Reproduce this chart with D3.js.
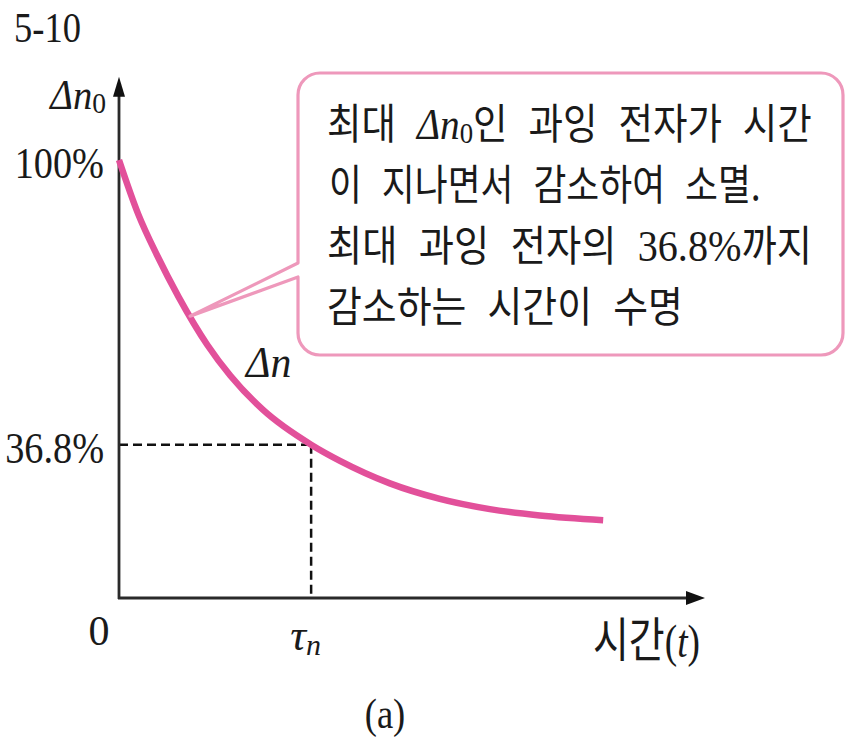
<!DOCTYPE html>
<html>
<head>
<meta charset="utf-8">
<script src="https://cdn.jsdelivr.net/npm/d3@7"></script>
<style>
    html, body { margin: 0; padding: 0; background: #fff; }
    svg { display: block; }
    .serif { font-family: "Liberation Serif", "DejaVu Serif", serif; }
    .kr { font-family: "Noto Sans CJK KR", sans-serif; }
</style>
</head>
<body>
<div id="chart"></div>
<script>
// Fig 5-10 (a): decay of excess electrons, lifetime tau_n at 36.8%

// curve: time in units of tau_n, excess in % of Δn0
const times  = [0, 0.10, 0.20, 0.31, 0.46, 0.58, 0.75, 1.00, 1.15, 1.41, 1.67, 1.93, 2.19, 2.52];
const excess = [100, 88.2, 79.0, 70.0, 59.3, 52.4, 44.7, 36.8, 33.1, 27.9, 24.3, 21.9, 20.4, 19.3];

const yTicks = [100, 36.8];
const xTicks = [1];          // tau_n
const lifetime = 1;          // t = tau_n
const lifetimeLevel = 36.8;  // %
const axisMax = { t: 3.05, v: 118 };
const calloutAt = 0.37;      // t where the callout points at the curve

const calloutLines = [
    [['kr', '최대 '], ['it', 'Δn'], ['sub', '0'], ['kr', '인 과잉 전자가 시간']],
    [['kr', '이 지나면서 감소하여 소멸.']],
    [['kr', '최대 과잉 전자의 '], ['serif', '36.8%'], ['kr', '까지']],
    [['kr', '감소하는 시간이 수명']]
];

const COLORS = {
    axis: '#2a2a2a',
    curve: '#e2509a',
    callout: '#ee98bb',
    text: '#1a1a1a'
};

const width = 846, height = 737;
const serifSqueeze = 0.87;   // the figure's serif lettering is slightly condensed

const svg = d3.select('#chart').append('svg')
    .attr('width', width)
    .attr('height', height);

svg.append('rect').attr('width', width).attr('height', height).attr('fill', '#fff');

// Scales (schematic figure, so the vertical scale is slightly non-linear)
const x = d3.scaleLinear().domain([0, axisMax.t]).range([119, 705]);
const y = d3.scalePow().exponent(1.05).domain([0, 100]).range([598, 160]);

// Figure number
svg.append('text')
    .attr('class', 'serif')
    .attr('transform', `translate(14,42) scale(${serifSqueeze},1)`)
    .attr('font-size', 42)
    .attr('fill', COLORS.text)
    .text('5-10');

// Dashed guides at the lifetime
const guides = svg.append('g')
    .attr('stroke', '#111')
    .attr('stroke-width', 2.5)
    .attr('stroke-dasharray', '9,5')
    .attr('fill', 'none');
guides.append('line')
    .attr('x1', x(0)).attr('x2', x(lifetime))
    .attr('y1', y(lifetimeLevel)).attr('y2', y(lifetimeLevel));
guides.append('line')
    .attr('x1', x(lifetime)).attr('x2', x(lifetime))
    .attr('y1', y(lifetimeLevel)).attr('y2', y(0));

// Axes lines with arrow heads
const axes = svg.append('g');
axes.append('line')
    .attr('x1', x(0)).attr('x2', x(0))
    .attr('y1', y(0) + 1).attr('y2', y(axisMax.v) + 16)
    .attr('stroke', COLORS.axis).attr('stroke-width', 2.8);
axes.append('line')
    .attr('x1', x(0) - 1).attr('x2', x(axisMax.t) - 14)
    .attr('y1', y(0)).attr('y2', y(0))
    .attr('stroke', COLORS.axis).attr('stroke-width', 2.8);
axes.append('path')
    .attr('d', `M${x(0)},${y(axisMax.v)} l-6,20 h12 Z`)
    .attr('fill', '#111');
axes.append('path')
    .attr('d', `M${x(axisMax.t)},${y(0)} l-19,-7 v14 Z`)
    .attr('fill', '#111');

// Y tick labels
const yAxis = svg.append('g')
    .attr('transform', `translate(${x(0)},0)`)
    .call(d3.axisLeft(y).tickValues(yTicks).tickSize(0).tickPadding(15)
        .tickFormat(d => d + '%'));
yAxis.select('.domain').remove();
yAxis.selectAll('text')
    .attr('class', 'serif')
    .attr('font-size', 44)
    .attr('fill', COLORS.text)
    .attr('x', -15 / serifSqueeze)
    .attr('dy', '0.4em')
    .attr('transform', `scale(${serifSqueeze},1)`);

// X tick labels (tau_n)
const xAxis = svg.append('g')
    .attr('transform', `translate(0,${y(0)})`)
    .call(d3.axisBottom(x).tickValues(xTicks).tickSize(0).tickFormat(''));
xAxis.select('.domain').remove();
xAxis.selectAll('.tick text').each(function () {
    const t = d3.select(this)
        .attr('class', 'serif')
        .attr('fill', COLORS.text)
        .attr('y', 52).attr('dy', 0).attr('dx', -6)
        .attr('font-size', 44);
    t.append('tspan').attr('font-style', 'italic').text('τ');
    t.append('tspan').attr('font-style', 'italic').attr('font-size', 30).attr('dy', 5).text('n');
});

// Origin label
svg.append('text')
    .attr('class', 'serif')
    .attr('x', x(0) - 20).attr('y', y(0) + 47)
    .attr('text-anchor', 'middle')
    .attr('font-size', 42)
    .attr('fill', COLORS.text)
    .text('0');

// Y axis title Δn0
const yTitle = svg.append('text')
    .attr('class', 'serif')
    .attr('text-anchor', 'end')
    .attr('transform', `translate(106,109) scale(${serifSqueeze + 0.05},1)`)
    .attr('font-size', 42)
    .attr('fill', COLORS.text);
yTitle.append('tspan').attr('font-style', 'italic').text('Δn');
yTitle.append('tspan').attr('font-size', 30).attr('dy', 4).text('0');

// X axis title 시간(t)
const xTitle = svg.append('text')
    .attr('font-size', 48)
    .attr('fill', COLORS.text);
xTitle.append('tspan').attr('class', 'kr').text('시간');
xTitle.append('tspan').attr('class', 'serif').attr('font-size', 46).text('(');
xTitle.append('tspan').attr('class', 'serif').attr('font-size', 46).attr('font-style', 'italic').text('t');
xTitle.append('tspan').attr('class', 'serif').attr('font-size', 46).text(')');
fitText(xTitle, 593, 657, 107);

// Decay curve
const curveData = times.map((t, i) => [t, excess[i]]);
const line = d3.line()
    .x(d => x(d[0]))
    .y(d => y(d[1]))
    .curve(d3.curveMonotoneX);

svg.append('path')
    .datum(curveData)
    .attr('d', line)
    .attr('fill', 'none')
    .attr('stroke', COLORS.curve)
    .attr('stroke-width', 6.5);

// Δn label on the curve
svg.append('text')
    .attr('class', 'serif')
    .attr('transform', `translate(246,377) scale(0.95,1)`)
    .attr('font-size', 44)
    .attr('font-style', 'italic')
    .attr('fill', COLORS.text)
    .text('Δn');

// Callout box with pointer to the curve
const i = d3.bisector(d => d).left(times, calloutAt);
const k = (calloutAt - times[i - 1]) / (times[i] - times[i - 1]);
const anchorV = excess[i - 1] + k * (excess[i] - excess[i - 1]);
const tip = [x(calloutAt), y(anchorV)];

const box = { left: 298, right: 843, top: 73, bottom: 355, r: 22, notchTop: 263, notchBottom: 277 };
const calloutPath = d3.path();
calloutPath.moveTo(tip[0], tip[1]);
calloutPath.lineTo(box.left, box.notchBottom);
calloutPath.lineTo(box.left, box.bottom - box.r);
calloutPath.arcTo(box.left, box.bottom, box.left + box.r, box.bottom, box.r);
calloutPath.lineTo(box.right - box.r, box.bottom);
calloutPath.arcTo(box.right, box.bottom, box.right, box.bottom - box.r, box.r);
calloutPath.lineTo(box.right, box.top + box.r);
calloutPath.arcTo(box.right, box.top, box.right - box.r, box.top, box.r);
calloutPath.lineTo(box.left + box.r, box.top);
calloutPath.arcTo(box.left, box.top, box.left, box.top + box.r, box.r);
calloutPath.lineTo(box.left, box.notchTop);
calloutPath.closePath();

svg.append('path')
    .attr('d', calloutPath.toString())
    .attr('fill', '#fff')
    .attr('stroke', COLORS.callout)
    .attr('stroke-width', 3.2)
    .attr('stroke-linejoin', 'round');

// Callout text, one <text> per line, fitted to the line widths of the figure
const lineLayout = [
    { x: 327, y: 139, w: 485 },
    { x: 329, y: 200, w: 432 },
    { x: 327, y: 261, w: 485 },
    { x: 327, y: 322, w: 356 }
];

calloutLines.forEach((parts, li) => {
    const t = svg.append('text')
        .attr('font-size', 42)
        .attr('fill', COLORS.text)
        .attr('word-spacing', 14);
    parts.forEach(([kind, str], j) => {
        const s = t.append('tspan').text(str);
        if (kind === 'kr') s.attr('class', 'kr');
        if (kind === 'serif') s.attr('class', 'serif').attr('font-size', 44);
        if (kind === 'it') s.attr('class', 'serif').attr('font-style', 'italic').attr('font-size', 44);
        if (kind === 'sub') s.attr('class', 'serif').attr('font-size', 30).attr('dy', 4);
        if (j > 0 && parts[j - 1][0] === 'sub') s.attr('dy', -4);
    });
    const L = lineLayout[li];
    fitText(t, L.x, L.y, L.w);
});

// Panel label
svg.append('text')
    .attr('class', 'serif')
    .attr('transform', `translate(385,728) scale(${serifSqueeze},1)`)
    .attr('text-anchor', 'middle')
    .attr('font-size', 42)
    .attr('fill', COLORS.text)
    .text('(a)');

function fitText(sel, x0, y0, targetW) {
    const w = sel.node().getComputedTextLength();
    sel.attr('transform', `translate(${x0},${y0}) scale(${targetW / w},1)`);
}
</script>
</body>
</html>
